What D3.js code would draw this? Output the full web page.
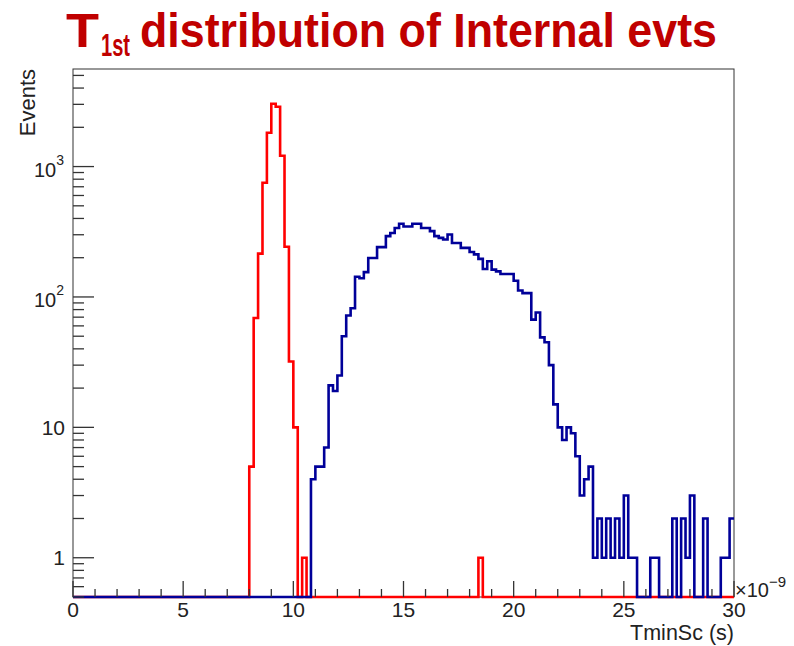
<!DOCTYPE html>
<html>
<head>
<meta charset="utf-8">
<script src="https://cdn.jsdelivr.net/npm/d3@7"></script>
<style>
  body { margin: 0; background: #fff; }
  svg { display: block; }
  text { font-family: "Liberation Sans", Arial, sans-serif; }
</style>
</head>
<body>
<div id="chart"></div>
<script>
// Histogram binning (x in units of 1e-9 s)
const nBins = 150;
const xRange = [0, 30];
const yRange = [0.5, 5600];

// Red histogram counts, one value per bin (0.2 ns wide)
const redCounts = [
  0, 0, 0, 0, 0, 0, 0, 0, 0, 0,
  0, 0, 0, 0, 0, 0, 0, 0, 0, 0,
  0, 0, 0, 0, 0, 0, 0, 0, 0, 0,
  0, 0, 0, 0, 0, 0, 0, 0, 0, 0,
  5, 69, 215, 751, 1815, 3035, 2875, 1210, 243, 32,
  10, 0, 1, 0, 0, 0, 0, 0, 0, 0,
  0, 0, 0, 0, 0, 0, 0, 0, 0, 0,
  0, 0, 0, 0, 0, 0, 0, 0, 0, 0,
  0, 0, 0, 0, 0, 0, 0, 0, 0, 0,
  0, 0, 1, 0, 0, 0, 0, 0, 0, 0,
  0, 0, 0, 0, 0, 0, 0, 0, 0, 0,
  0, 0, 0, 0, 0, 0, 0, 0, 0, 0,
  0, 0, 0, 0, 0, 0, 0, 0, 0, 0,
  0, 0, 0, 0, 0, 0, 0, 0, 0, 0,
  0, 0, 0, 0, 0, 0, 0, 0, 0, 0
];

// Blue histogram counts
const blueCounts = [
  0, 0, 0, 0, 0, 0, 0, 0, 0, 0,
  0, 0, 0, 0, 0, 0, 0, 0, 0, 0,
  0, 0, 0, 0, 0, 0, 0, 0, 0, 0,
  0, 0, 0, 0, 0, 0, 0, 0, 0, 0,
  0, 0, 0, 0, 0, 0, 0, 0, 0, 0,
  0, 0, 0, 0, 4, 5, 5, 7, 21, 19,
  25, 50, 72, 82, 143, 139, 155, 199, 199, 241,
  241, 293, 309, 338, 364, 347, 347, 364, 364, 338,
  338, 320, 293, 284, 276, 301, 259, 259, 238, 238,
  221, 212, 196, 164, 188, 162, 157, 150, 150, 150,
  133, 112, 107, 107, 67, 76, 49, 45, 30, 15,
  10, 8, 10, 9, 6, 3, 4, 5, 1, 2,
  1, 2, 1, 2, 1, 3, 1, 1, 0, 0,
  0, 1, 1, 0, 0, 0, 2, 0, 2, 1,
  3, 0, 0, 2, 0, 0, 0, 1, 1, 2
];

const xTickLabels = ['0', '5', '10', '15', '20', '25', '30'];
const yMajorTicks = [1, 10, 100, 1000];
const yTickBase = ['1', '10', '10', '10'];
const yTickExp = ['', '', '2', '3'];

const W = 794, H = 646;
const frame = { left: 73, right: 734, top: 69, bottom: 597 };

const svg = d3.select('#chart').append('svg')
  .attr('width', W).attr('height', H);

const x = d3.scaleLinear().domain(xRange).range([frame.left, frame.right]);
const y = d3.scaleLog().domain(yRange).range([frame.bottom, frame.top]);

// Title: squeeze each piece horizontally to the width seen in the slide
const titleColor = '#c00000';
const title = svg.append('g').attr('fill', titleColor)
  .style('font-family', 'Lato, "Open Sans", sans-serif')
  .style('font-weight', 'bold');
function fitText(txt, size, x0, y0, width) {
  const t = title.append('text').style('font-size', size + 'px').text(txt);
  const len = t.node().getComputedTextLength();
  t.attr('transform', `translate(${x0},${y0}) scale(${width / len},1)`);
  return t;
}
fitText('T', 48, 66, 47, 33);
fitText('1st', 32, 101, 56, 29);
fitText('distribution of Internal evts', 48, 140, 47, 577);

// Frame
svg.append('rect')
  .attr('x', frame.left).attr('y', frame.top)
  .attr('width', frame.right - frame.left).attr('height', frame.bottom - frame.top)
  .attr('fill', 'none').attr('stroke', '#333').attr('stroke-width', 1);

svg.append('defs').append('clipPath').attr('id', 'clip')
  .append('rect')
  .attr('x', frame.left - 2).attr('y', frame.top)
  .attr('width', frame.right - frame.left + 4).attr('height', frame.bottom - frame.top + 2);

// Step outline for a histogram
const binWidth = (xRange[1] - xRange[0]) / nBins;
function stepPoints(counts) {
  const pts = counts.map((c, i) => [xRange[0] + i * binWidth, c]);
  pts.push([xRange[1], counts[counts.length - 1]]);
  return pts;
}
const line = d3.line()
  .x(d => x(d[0]))
  .y(d => y(Math.max(d[1], yRange[0])))
  .curve(d3.curveStepAfter);

const hists = svg.append('g').attr('clip-path', 'url(#clip)');
hists.append('path')
  .attr('d', line(stepPoints(redCounts)))
  .attr('fill', 'none').attr('stroke', '#ff0000').attr('stroke-width', 2.6);
hists.append('path')
  .attr('d', line(stepPoints(blueCounts)))
  .attr('fill', 'none').attr('stroke', '#000099').attr('stroke-width', 2.6);

// X ticks
const axisColor = '#333';
const xt = svg.append('g');
x.ticks(30).forEach(v => {
  const major = v % 5 === 0;
  xt.append('line')
    .attr('x1', x(v)).attr('x2', x(v))
    .attr('y1', frame.bottom).attr('y2', frame.bottom - (major ? 16 : 8))
    .attr('stroke', axisColor).attr('stroke-width', 1.3);
});
xTickLabels.forEach(t => {
  xt.append('text')
    .attr('x', x(+t)).attr('y', 617)
    .attr('text-anchor', 'middle')
    .style('font-size', '21px').attr('fill', '#222')
    .text(t);
});

// Y ticks
const yt = svg.append('g');
y.ticks().forEach(v => {
  const lg = Math.log10(v);
  const major = Math.abs(lg - Math.round(lg)) < 1e-9;
  yt.append('line')
    .attr('x1', frame.left).attr('x2', frame.left + (major ? 21 : 11))
    .attr('y1', y(v)).attr('y2', y(v))
    .attr('stroke', axisColor).attr('stroke-width', 1.3);
});
yMajorTicks.forEach((v, i) => {
  if (yTickExp[i] === '') {
    yt.append('text')
      .attr('x', 65).attr('y', y(v) + 7.5)
      .attr('text-anchor', 'end')
      .style('font-size', '21px').attr('fill', '#222')
      .text(yTickBase[i]);
  } else {
    const tx = yt.append('text')
      .attr('x', 64).attr('y', y(v) + 10)
      .attr('text-anchor', 'end').attr('fill', '#222');
    tx.append('tspan').style('font-size', '20px').text(yTickBase[i]);
    tx.append('tspan').attr('dy', -12).style('font-size', '14px').text(yTickExp[i]);
  }
});

// Axis titles
svg.append('text')
  .attr('x', frame.right).attr('y', 640)
  .attr('text-anchor', 'end')
  .style('font-size', '21.5px').attr('fill', '#222')
  .text('TminSc (s)');

svg.append('text')
  .attr('transform', `translate(35,${frame.top}) rotate(-90)`)
  .attr('text-anchor', 'end')
  .style('font-size', '22px').attr('fill', '#222')
  .text('Events');

// Exponent of the x axis
const ex = svg.append('text')
  .attr('x', 735).attr('y', 597).attr('fill', '#222');
ex.append('tspan').style('font-size', '20px').text('\u00d710');
ex.append('tspan').attr('dy', -10).style('font-size', '15px').text('\u22129');
</script>
</body>
</html>
